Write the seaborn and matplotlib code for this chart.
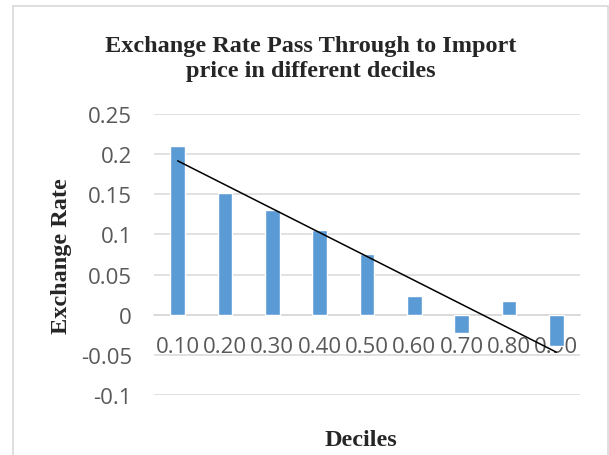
import numpy as np
import pandas as pd
import seaborn as sns
import matplotlib.pyplot as plt
from matplotlib.patches import Rectangle

# values
deciles = ['0.10', '0.20', '0.30', '0.40', '0.50', '0.60', '0.70', '0.80', '0.90']
pass_through = [0.210, 0.152, 0.130, 0.106, 0.0754, 0.0233, -0.0225, 0.0175, -0.039]
yticks = [-0.1, -0.05, 0, 0.05, 0.1, 0.15, 0.2, 0.25]
ytick_labels = ['-0.1', '-0.05', '0', '0.05', '0.1', '0.15', '0.2', '0.25']

df = pd.DataFrame({'Deciles': deciles, 'Exchange Rate': pass_through})

sns.set_style('white')
plt.rcParams['font.family'] = ['Open Sans', 'DejaVu Sans']

fig = plt.figure(figsize=(6.09, 4.56), dpi=100)
ax = fig.add_axes([154 / 609, 1 - 396 / 456, 426 / 609, 281 / 456])

# light grey chart border (bottom runs off the picture)
fig.patches.append(Rectangle((12.5 / 609, -0.05), 595 / 609, 1.05 - 7 / 456,
                             transform=fig.transFigure, fill=False,
                             edgecolor='#d9d9d9', linewidth=1.2))

sns.barplot(data=df, x='Deciles', y='Exchange Rate', color='#5b9bd5',
            width=0.31, saturation=1, ax=ax, zorder=3)

# linear trend line like Excel
xpos = np.arange(len(deciles))
coef = np.polyfit(xpos, pass_through, 1)
ax.plot(xpos, np.polyval(coef, xpos), color='black', linewidth=1.1, zorder=4)

ax.set_xlim(-0.5, len(deciles) - 0.5)
ax.set_ylim(-0.1, 0.25)
ax.set_yticks(yticks)
ax.set_yticklabels(ytick_labels)
ax.yaxis.grid(True, color='#d9d9d9', linewidth=1.1, zorder=0)
ax.set_axisbelow(True)

for s in ['top', 'right', 'left']:
    ax.spines[s].set_visible(False)
ax.spines['bottom'].set_position(('data', 0))
ax.spines['bottom'].set_color('#d9d9d9')
ax.spines['bottom'].set_linewidth(1.1)
ax.spines['bottom'].set_zorder(2)

ax.set_xticks(np.arange(-0.5, len(deciles), 1.0), minor=True)
ax.tick_params(axis='x', which='minor', length=4.5, width=1.1, color='#d9d9d9', direction='out')
ax.tick_params(axis='x', which='major', length=0, pad=15, labelsize=16, labelcolor='#595959')
ax.tick_params(axis='y', length=0, pad=16, labelsize=16, labelcolor='#595959')

ax.set_xlabel('')
ax.set_ylabel('')

serif = ['Liberation Serif', 'DejaVu Serif']
fig.text(311 / 609, 1 - 59 / 456, 'Exchange Rate Pass Through to Import\nprice in different deciles',
         ha='center', va='center', multialignment='center', fontsize=17.5,
         fontweight='bold', family=serif, linespacing=1.2)
fig.text(62 / 609, 1 - 256 / 456, 'Exchange Rate', rotation=90, ha='center', va='center',
         fontsize=17.5, fontweight='bold', family=serif)
fig.text(361 / 609, 1 - 441 / 456, 'Deciles', ha='center', va='center',
         fontsize=17.5, fontweight='bold', family=serif)

fig.savefig('out.png', dpi=100)
